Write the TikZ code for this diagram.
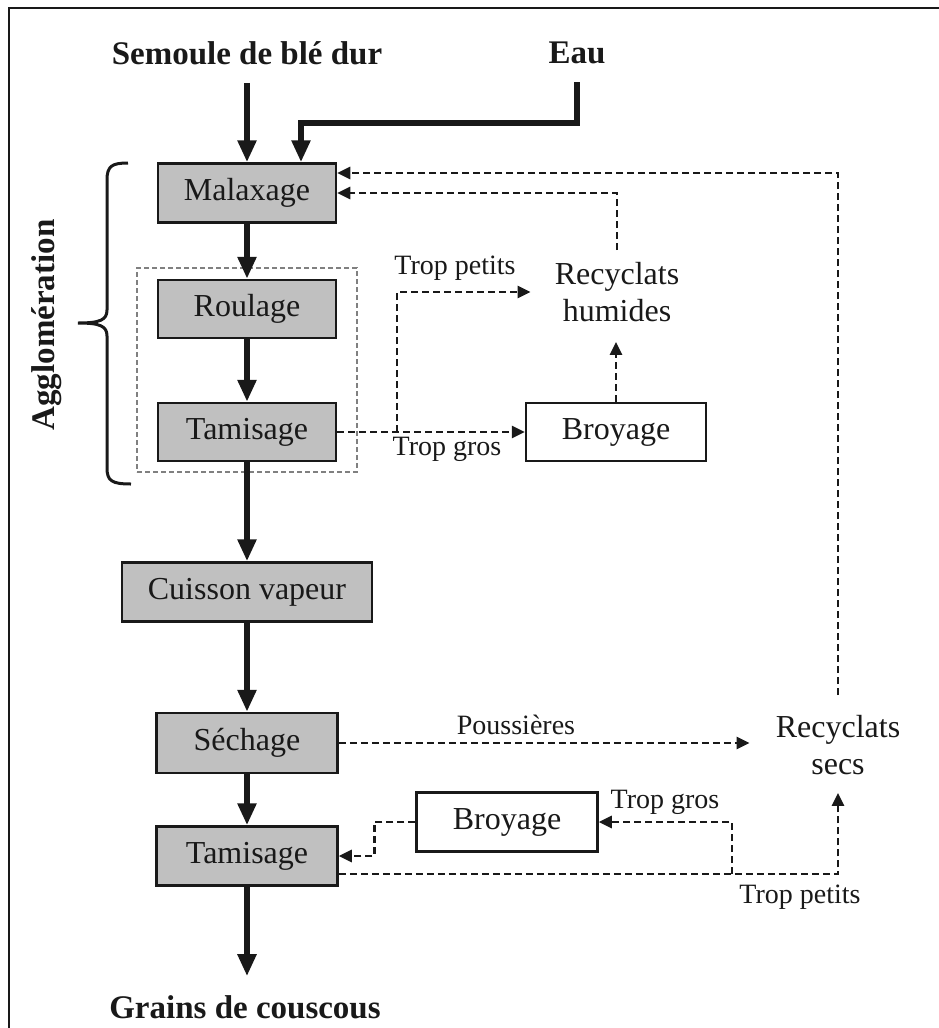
\documentclass[tikz,border=0pt]{standalone}
\usepackage{fontspec}
\setmainfont{Liberation Serif}
\usetikzlibrary{arrows.meta,calc}
\definecolor{boxgray}{RGB}{192,192,192}
\definecolor{ink}{RGB}{25,25,25}
\begin{document}
\begin{tikzpicture}[x=1pt,y=-1pt,
 boxtxt/.style={font=\fontsize{32}{37}\selectfont},
 procbox/.style={draw=ink, line width=2.5pt, fill=boxgray, inner sep=0pt, minimum height=59pt, boxtxt, text=ink},
 whitebox/.style={procbox, fill=white},
 title/.style={font=\fontsize{33}{38}\selectfont\bfseries, inner sep=0pt, text=ink},
 lbl/.style={font=\fontsize{28}{32}\selectfont, inner sep=0pt, text=ink},
 recy/.style={boxtxt, align=center, inner sep=0pt, text=ink},
 flow/.style={line width=5.5pt, draw=ink, line join=miter, -{Triangle[length=22pt,width=18pt]}},
 dflow/.style={line width=2.8pt, draw=ink, dash pattern=on 7pt off 4pt, -{Triangle[length=13pt,width=12pt]}},
 grpbox/.style={draw=gray, line width=1.5pt, dash pattern=on 5pt off 3pt, inner sep=0pt},
 bracestyle/.style={line width=3pt, draw=ink},
]
\useasboundingbox (0,0) rectangle (939,1028);
% frame
\draw[line width=2.5pt, ink] (9,1028) -- (9,8) -- (939,8);

% titles
\node[title] (sem) at (247,53) {Semoule de blé dur};
\node[title] (eau) at (577,53) {Eau};
\node[title] (grains) at (245,1007) {Grains de couscous};
\node[title, rotate=90] (agg) at (47,325) {Agglomération};

% group box
\node[grpbox, minimum width=220pt, minimum height=204pt] (grp) at (247,370) {};

% process boxes
\node[procbox, minimum width=178pt] (mal) at (247,193) {Malaxage};
\node[procbox, minimum width=178pt, minimum height=58pt] (rou) at (247,309) {Roulage};
\node[procbox, minimum width=178pt, minimum height=58pt] (tam1) at (247,432) {Tamisage};
\node[procbox, minimum width=250pt] (cui) at (247,592) {Cuisson vapeur};
\node[procbox, minimum width=181pt, minimum height=60pt] (sec) at (247,743) {Séchage};
\node[procbox, minimum width=181pt] (tam2) at (247,856) {Tamisage};
\node[whitebox, minimum width=180pt, minimum height=58pt] (bro1) at (616,432) {Broyage};
\node[whitebox, minimum width=181pt] (bro2) at (507,822) {Broyage};

% recycling nodes
\node[recy] (rh) at (617,292) {Recyclats\\humides};
\node[recy] (rs) at (838,745) {Recyclats\\secs};

% labels
\node[lbl] (l1) at (455,268) {Trop petits};
\node[lbl] (l2) at (447,449) {Trop gros};
\node[lbl] (l3) at (516,725) {Poussières};
\node[lbl] (l4) at (665,802) {Trop gros};
\node[lbl] (l5) at (800,897) {Trop petits};

% brace
\draw[bracestyle] (128,163) .. controls (112,163) and (107,166) .. (107,180)
  -- (107,310) .. controls (107,320) and (100,323) .. (78,323)
  .. controls (100,323) and (107,326) .. (107,336)
  -- (107,468) .. controls (107,481) and (112,484) .. (131,484);

% main flow
\coordinate (eb) at (301,123);
\draw[flow] ([yshift=-18pt]sem.south) -- (sem.south |- mal.north);
\draw[flow] ([yshift=-18pt]eau.south) |- (eb) -- (eb |- mal.north);
\draw[flow] (mal) -- (rou);
\draw[flow] (rou) -- (tam1);
\draw[flow] (tam1) -- (cui);
\draw[flow] (cui) -- (sec);
\draw[flow] (sec) -- (tam2);
\draw[flow, shorten >=19pt] (tam2.south) -- (tam2.south |- grains.north);

% wet recycling loop
\coordinate (j1) at (397,432);
\draw[dflow] (tam1.east) -- (bro1.west);
\draw[dflow, shorten >=24pt] (j1) |- (rh.west);
\draw[dflow, shorten >=20pt] (bro1.north) -- (bro1.north |- rh.south);
\draw[dflow] ([yshift=12pt]rh.north) |- (mal.east);

% dry recycling loop
\draw[dflow, shorten >=26pt] (sec.east) -- (sec.east -| rs.west);
\draw[dflow] ([yshift=20pt]rs.north) |- ([yshift=20pt]mal.east);
\coordinate (j2) at (732,874);
\draw[dflow, shorten >=18pt] ([yshift=-18pt]tam2.east) -| (rs.south);
\draw[dflow] (j2) |- (bro2.east);
\draw[dflow] (bro2.west) -- ++(-41,0) |- (tam2.east);
\end{tikzpicture}
\end{document}
